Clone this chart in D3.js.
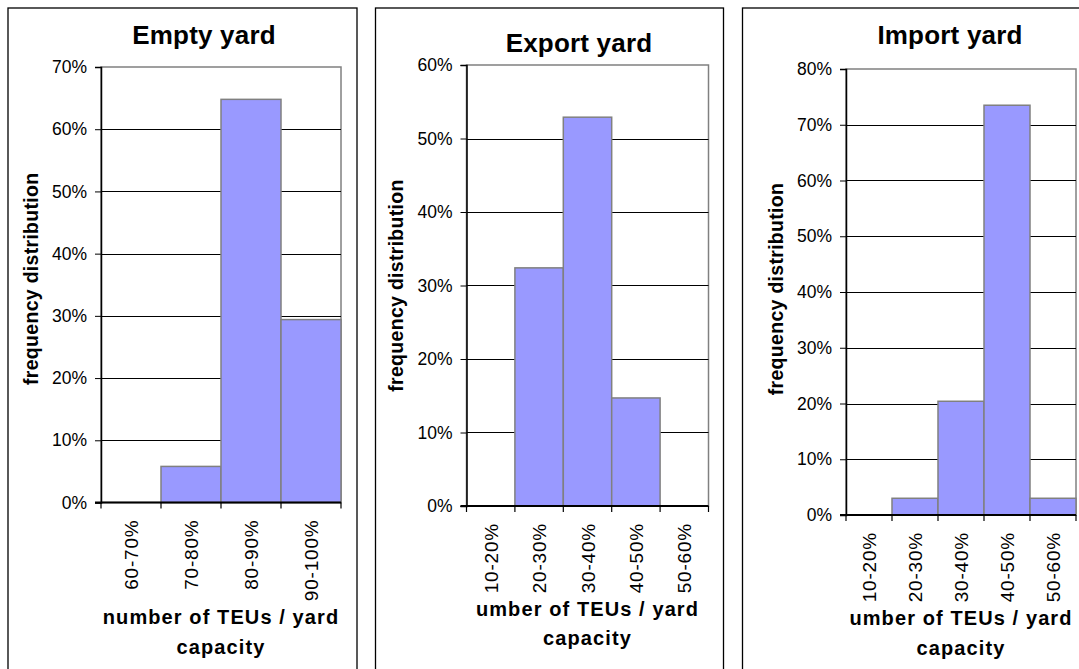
<!DOCTYPE html>
<meta charset="utf-8">
<head>
    <title>Yard occupancy histograms</title>
    <script src="https://d3js.org/d3.v7.min.js"></script>
</head>

<style>
    body { margin: 0; background: white; }
    text { font-family: "Liberation Sans", Arial, sans-serif; fill: #000; }
    .bar { fill: #9999FF; stroke: #808080; stroke-width: 1.5; }
    .grid line { stroke: #000; stroke-width: 1; }
    .frame { fill: none; stroke: #000; stroke-width: 1.3; }
</style>

<svg></svg>

<script>
    // data
    var emptyCats = ["60-70%", "70-80%", "80-90%", "90-100%"];
    var emptyValues = [0, 0.058, 0.648, 0.294];
    var exportCats = ["10-20%", "20-30%", "30-40%", "40-50%", "50-60%"];
    var exportValues = [0, 0.324, 0.529, 0.147, 0];
    var importCats = ["10-20%", "20-30%", "30-40%", "40-50%", "50-60%"];
    var importValues = [0, 0.03, 0.204, 0.735, 0.03];
    var titles = ["Empty yard", "Export yard", "Import yard"];
    var yMax = [0.7, 0.6, 0.8];
    var xTitle1 = ["number of TEUs / yard", "umber of TEUs / yard", "umber of TEUs / yard"];
    var xTitle2 = "capacity";
    var yTitle = "frequency distribution";

    var vWidth = 1079, vHeight = 669;
    var svg = d3.select('svg').attr('width', vWidth).attr('height', vHeight);

    // panel geometry (pixels)
    var panels = [
        {frame: [8, 8, 349], plot: [101, 67, 341, 502.5], titleXY: [204, 44], yLabX: 31, yLabDY: -6, xLabY: [624, 654]},
        {frame: [375.5, 8, 348], plot: [466.5, 65, 708.5, 506], titleXY: [579, 52], yLabX: 396, yLabDY: 0, xLabY: [616, 645]},
        {frame: [742.5, 8, 400], plot: [846, 69, 1076, 515], titleXY: [950, 44], yLabX: 776, yLabDY: -3, xLabY: [625, 655]}
    ];
    var cats = [emptyCats, exportCats, importCats];
    var vals = [emptyValues, exportValues, importValues];

    panels.forEach(function (p, k) {
        var g = svg.append('g');
        var x0 = p.plot[0], y0 = p.plot[1], x1 = p.plot[2], y1 = p.plot[3];

        g.append('rect').attr('class', 'frame')
            .attr('x', p.frame[0]).attr('y', p.frame[1])
            .attr('width', p.frame[2]).attr('height', 700);

        var x = d3.scaleBand().domain(cats[k]).range([x0, x1]).padding(0);
        var y = d3.scaleLinear().domain([0, yMax[k]]).range([y1, y0]);
        var ticks = d3.range(0, yMax[k] + 0.001, 0.1);

        // plot area border (grey top/right)
        g.append('rect')
            .attr('x', x0).attr('y', y0).attr('width', x1 - x0).attr('height', y1 - y0)
            .attr('fill', 'none').attr('stroke', '#808080').attr('stroke-width', 1.5);

        // gridlines
        g.append('g').attr('class', 'grid')
            .selectAll('line').data(ticks.slice(1, -1)).enter()
            .append('line')
            .attr('x1', x0).attr('x2', x1)
            .attr('y1', function (d) { return Math.round(y(d)) + 0.5; })
            .attr('y2', function (d) { return Math.round(y(d)) + 0.5; });

        // bars
        var rows = cats[k].map(function (c, i) { return {cat: c, v: vals[k][i]}; })
            .filter(function (d) { return d.v > 0; });
        g.append('g').selectAll('rect').data(rows).enter()
            .append('rect').attr('class', 'bar')
            .attr('x', function (d) { return x(d.cat); })
            .attr('y', function (d) { return y(d.v); })
            .attr('width', x.bandwidth())
            .attr('height', function (d) { return y1 - y(d.v); });

        // y axis
        var yAxis = d3.axisLeft(y).tickValues(ticks).tickSize(6).tickPadding(8)
            .tickFormat(d3.format('.0%'));
        var ya = g.append('g').attr('transform', 'translate(' + x0 + ',0)').call(yAxis);
        ya.select('.domain').attr('stroke', '#000').attr('stroke-width', 1.5);
        ya.selectAll('.tick line').attr('stroke', '#000');
        ya.selectAll('.tick text').attr('font-size', 17.5).attr('font-family', '"Liberation Sans", Arial, sans-serif');

        // x axis: line and ticks at category boundaries
        g.append('line').attr('x1', x0 - 6).attr('x2', x1)
            .attr('y1', y1).attr('y2', y1).attr('stroke', '#000').attr('stroke-width', 2);
        var bounds = cats[k].map(function (c) { return x(c); }).concat([x1]);
        g.append('g').selectAll('line').data(bounds).enter()
            .append('line')
            .attr('x1', function (d) { return d; }).attr('x2', function (d) { return d; })
            .attr('y1', y1).attr('y2', y1 + 6).attr('stroke', '#000').attr('stroke-width', 1.2);

        // category labels (rotated)
        g.append('g').selectAll('text').data(cats[k]).enter()
            .append('text')
            .attr('transform', function (d) {
                return 'translate(' + (x(d) + x.bandwidth() / 2 + 7) + ',' + (y1 + 17) + ') rotate(-90)';
            })
            .attr('text-anchor', 'end')
            .attr('font-size', 19)
            .attr('letter-spacing', 0.8)
            .text(function (d) { return d; });

        // titles
        g.append('text').attr('x', p.titleXY[0]).attr('y', p.titleXY[1])
            .attr('text-anchor', 'middle').attr('font-size', 26).attr('font-weight', 'bold')
            .attr('letter-spacing', 0.2)
            .text(titles[k]);

        g.append('text')
            .attr('transform', 'translate(' + p.yLabX + ',' + ((y0 + y1) / 2 + p.yLabDY) + ') rotate(-90)')
            .attr('text-anchor', 'middle').attr('dy', '0.35em')
            .attr('font-size', 19.5).attr('font-weight', 'bold').attr('letter-spacing', 0.3)
            .text(yTitle);

        g.append('text').attr('x', (x0 + x1) / 2).attr('y', p.xLabY[0])
            .attr('text-anchor', 'middle').attr('font-size', 20).attr('font-weight', 'bold')
            .attr('letter-spacing', 1.1)
            .text(xTitle1[k]);
        g.append('text').attr('x', (x0 + x1) / 2).attr('y', p.xLabY[1])
            .attr('text-anchor', 'middle').attr('font-size', 20).attr('font-weight', 'bold')
            .attr('letter-spacing', 1.1)
            .text(xTitle2);
    });
</script>
